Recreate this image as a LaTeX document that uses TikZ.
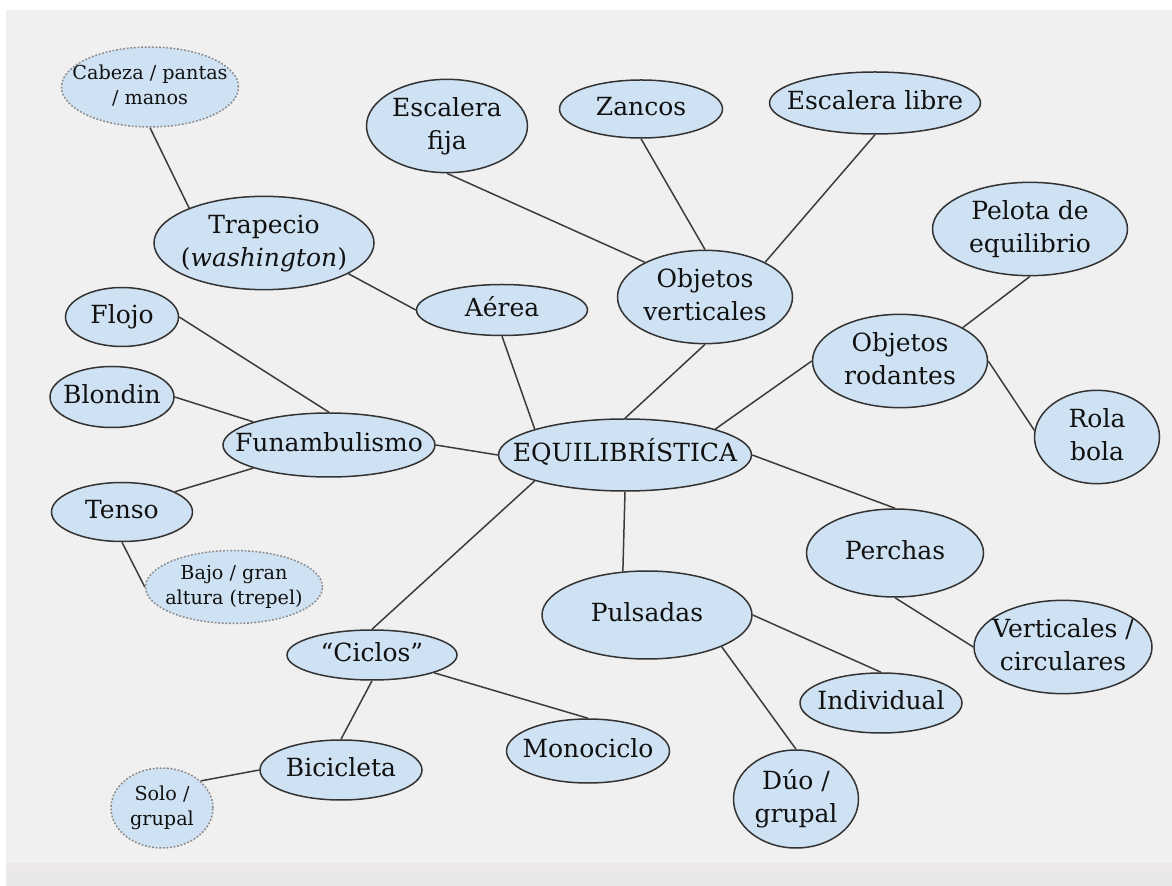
\documentclass[tikz,border=0pt]{standalone}
\usepackage{fontspec}
\setmainfont{DejaVu Serif}
\usetikzlibrary{shapes.geometric}
\definecolor{bubfill}{HTML}{CFE2F3}
\definecolor{bubline}{HTML}{333333}
\definecolor{bubtext}{HTML}{111111}
\definecolor{dotline}{HTML}{8A8A8A}
\definecolor{linkcol}{HTML}{3C3C3C}
\definecolor{bggray}{HTML}{F0F0F0}
\definecolor{bgband}{HTML}{EDE9E9}
\newcommand{\bubtxt}[1]{\makebox[0pt]{\begin{tabular}{@{}c@{}}#1\end{tabular}}}
\begin{document}
\begin{tikzpicture}[x=0.5pt, y=-0.5pt,
  bub/.style={shape=ellipse, draw=bubline, fill=bubfill, line width=0.75pt, inner sep=0pt, text=bubtext, font=\fontsize{12.5}{16.5}\selectfont},
  dotbub/.style={bub, draw=dotline, dash pattern=on 0.9pt off 0.9pt, font=\fontsize{9.6}{12.5}\selectfont},
  link/.style={-, line width=0.75pt, draw=linkcol}]
\useasboundingbox (0,0) rectangle (1172,886);
\fill[white] (0,0) rectangle (1172,886);
\fill[bggray] (6,10) rectangle (1172,863);
\fill[bgband] (6,863) rectangle (1172,873);
\fill[black!9] (6,873) rectangle (1172,886);
% centre
\node[bub, minimum width=126.5pt, minimum height=36pt] (eq) at (625,455) {\bubtxt{EQUILIBRÍSTICA}};
% arriba
\node[dotbub, minimum width=88.5pt, minimum height=40pt] (cab) at (150,87) {\bubtxt{Cabeza / pantas\\/ manos}};
\node[bub, minimum width=110pt, minimum height=40pt] (tra) at (264,243) {\bubtxt{Trapecio\\(\textit{washington})}};
\node[bub, minimum width=85.5pt, minimum height=25.5pt] (aer) at (502,310) {\bubtxt{Aérea}};
\node[bub, minimum width=80.5pt, minimum height=36pt] (efija) at (447,126) {\bubtxt{Escalera\\fija}};
\node[bub, minimum width=81.5pt, minimum height=29pt] (zan) at (641,109) {\bubtxt{Zancos}};
\node[bub, minimum width=105.5pt, minimum height=31pt] (elibre) at (875,103) {\bubtxt{Escalera libre}};
\node[bub, minimum width=87.5pt, minimum height=43.5pt] (ov) at (705,297) {\bubtxt{Objetos\\verticales}};
\node[bub, minimum width=97.5pt, minimum height=40pt] (pel) at (1030,229) {\bubtxt{Pelota de\\equilibrio}};
\node[bub, minimum width=87.5pt, minimum height=44.5pt] (rod) at (900,361) {\bubtxt{Objetos\\rodantes}};
\node[bub, minimum width=62.5pt, minimum height=43.5pt] (rola) at (1097,437) {\bubtxt{Rola\\bola}};
% izquierda
\node[bub, minimum width=106pt, minimum height=32pt] (fun) at (329,445) {\bubtxt{Funambulismo}};
\node[bub, minimum width=56.5pt, minimum height=29.5pt] (flo) at (122,317) {\bubtxt{Flojo}};
\node[bub, minimum width=62pt, minimum height=30.5pt] (blo) at (112,397) {\bubtxt{Blondin}};
\node[bub, minimum width=70.5pt, minimum height=29.5pt] (ten) at (122,512) {\bubtxt{Tenso}};
\node[dotbub, minimum width=88.5pt, minimum height=36.5pt] (bajo) at (234,587) {\bubtxt{Bajo / gran\\altura (trepel)}};
% abajo
\node[bub, minimum width=85pt, minimum height=25pt] (cic) at (372,655) {\bubtxt{“Ciclos”}};
\node[bub, minimum width=81pt, minimum height=30pt] (bic) at (341,770) {\bubtxt{Bicicleta}};
\node[dotbub, minimum width=51pt, minimum height=40pt] (solo) at (162,808) {\bubtxt{Solo /\\grupal}};
\node[bub, minimum width=81.5pt, minimum height=32pt] (mono) at (588,751) {\bubtxt{Monociclo}};
\node[bub, minimum width=105pt, minimum height=44pt] (pul) at (647,615) {\bubtxt{Pulsadas}};
\node[bub, minimum width=81pt, minimum height=30pt] (ind) at (881,703) {\bubtxt{Individual}};
\node[bub, minimum width=62.5pt, minimum height=49pt] (duo) at (796,799) {\bubtxt{Dúo /\\grupal}};
% derecha
\node[bub, minimum width=88.5pt, minimum height=44pt] (per) at (895,553) {\bubtxt{Perchas}};
\node[bub, minimum width=89pt, minimum height=44pt] (vert) at (1063,647) {\bubtxt{Verticales /\\circulares}};
% ramas
\path [link] (cab.south) edge (tra.155);
\path [link] (tra.340) edge (aer.west);
\path [link] (aer.south) edge (eq.164);
\path [link] (efija.south) edge (ov.150);
\path [link] (zan.south) edge (ov.north);
\path [link] (elibre.south) edge (ov.30);
\path [link] (ov.south) edge (eq.north);
\path [link] (pel.south) edge (rod.28);
\path [link] (rod.west) edge (eq.16);
\path [link] (rod.east) edge (rola.174);
\path [link] (flo.east) edge (fun.north);
\path [link] (blo.east) edge (fun.163);
\path [link] (ten.21) edge (fun.197);
\path [link] (ten.south) edge (bajo.west);
\path [link] (fun.east) edge (eq.west);
\path [link] (eq.196) edge (cic.north);
\path [link] (cic.south) edge (bic.north);
\path [link] (cic.344) edge (mono.north);
\path [link] (bic.west) edge (solo.35);
\path [link] (eq.south) edge (pul.119);
\path [link] (pul.east) edge (ind.north);
\path [link] (pul.337) edge (duo.north);
\path [link] (eq.east) edge (per.north);
\path [link] (per.south) edge (vert.west);
\end{tikzpicture}
\end{document}
